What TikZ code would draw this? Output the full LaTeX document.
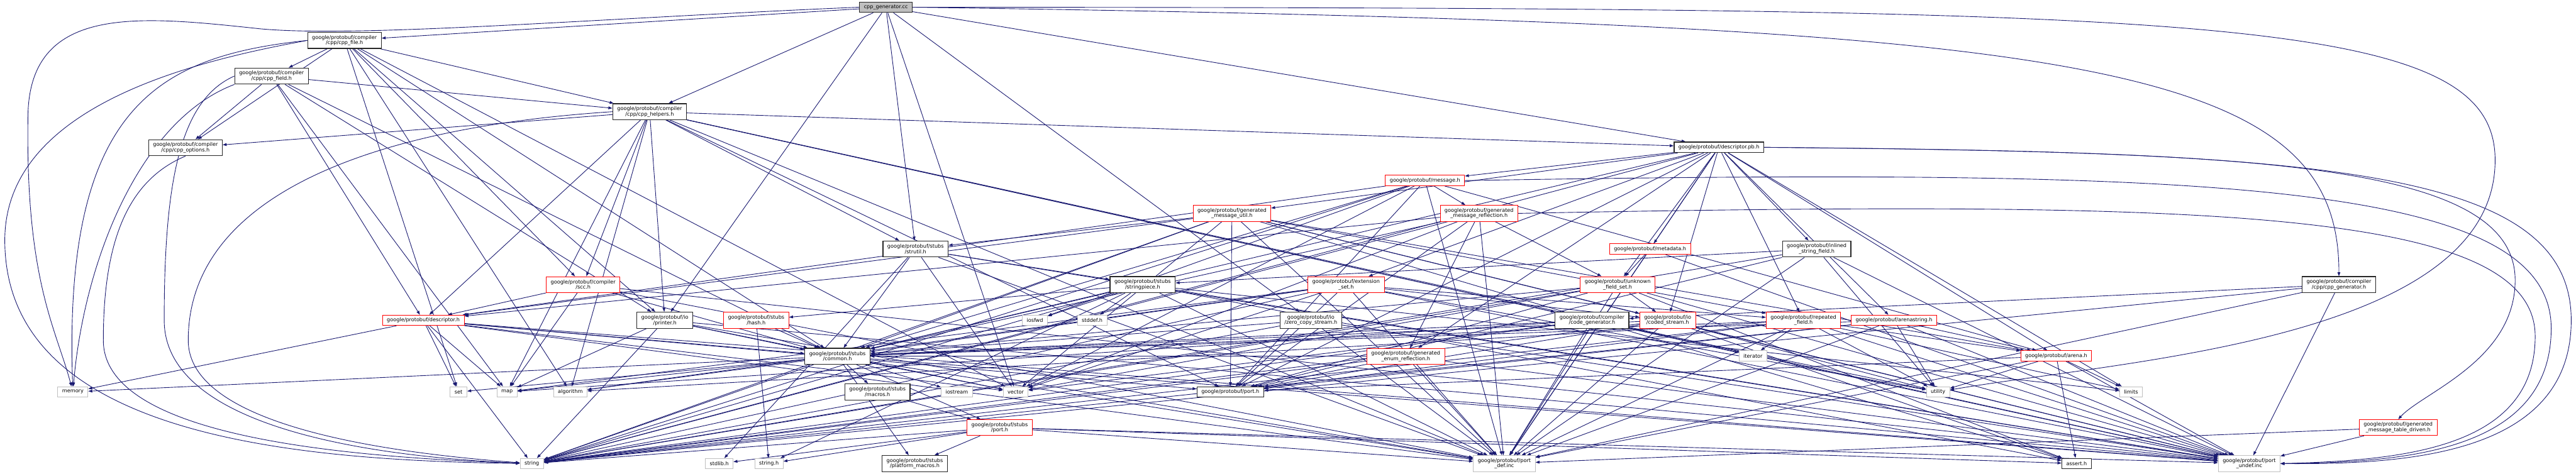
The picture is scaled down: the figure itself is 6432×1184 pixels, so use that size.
\documentclass[tikz,border=0pt]{standalone}
\usepackage{fontspec}
\setmainfont{DejaVu Sans}
\usetikzlibrary{arrows.meta, backgrounds}
\definecolor{edgeblue}{RGB}{25,25,112}
\definecolor{sysgray}{RGB}{191,191,191}
\newcommand{\graphfont}{\fontsize{3.63}{3.85}\selectfont}

\begin{document}
\begin{tikzpicture}[
x=0.01cm, y=-0.01cm,
hdr/.style={draw, rectangle, align=center, font=\graphfont, fill=white, inner xsep=0.11cm, inner ysep=0.02cm, minimum height=0.26cm, line width=0.4pt},
doc/.style={hdr, draw=black!85, line width=0.55pt},
trunc/.style={hdr, draw=red},
sys/.style={hdr, draw=sysgray},
rootbox/.style={hdr, draw=black!85, fill=sysgray, line width=0.55pt},
tall/.style={minimum height=0.40cm},
inc/.style={-{Triangle[length=0.10cm, width=0.07cm]}, draw=edgeblue, line width=0.4pt}
]
\useasboundingbox (0,0) rectangle (6432,1184);

\node[rootbox] (root) at (2212,18) {cpp\_generator.cc};
\node[doc, tall] (cppfile) at (860,101) {google/protobuf/compiler\\/cpp/cpp\_file.h};
\node[doc, tall] (cppfield) at (678,190) {google/protobuf/compiler\\/cpp/cpp\_field.h};
\node[doc, tall] (cpphelp) at (1622,279) {google/protobuf/compiler\\/cpp/cpp\_helpers.h};
\node[doc, tall] (cppopts) at (463,369) {google/protobuf/compiler\\/cpp/cpp\_options.h};
\node[doc] (descpb) at (4292,368) {google/protobuf/descriptor.pb.h};
\node[trunc] (message) at (3558,451) {google/protobuf/message.h};
\node[trunc, tall] (gmutil) at (3076,533) {google/protobuf/generated\\\_message\_util.h};
\node[trunc, tall] (gmrefl) at (3693,533) {google/protobuf/generated\\\_message\_reflection.h};
\node[doc, tall] (strutil) at (2286,622) {google/protobuf/stubs\\/strutil.h};
\node[trunc] (metadata) at (4120,622) {google/protobuf/metadata.h};
\node[doc, tall] (inlined) at (4536,622) {google/protobuf/inlined\\\_string\_field.h};
\node[trunc, tall] (scc) at (1456,711) {google/protobuf/compiler\\/scc.h};
\node[doc, tall] (strpiece) at (2853,711) {google/protobuf/stubs\\/stringpiece.h};
\node[trunc, tall] (extset) at (3361,711) {google/protobuf/extension\\\_set.h};
\node[trunc, tall] (ufs) at (4039,711) {google/protobuf/unknown\\\_field\_set.h};
\node[doc, tall] (cppgen) at (5840,711) {google/protobuf/compiler\\/cpp/cpp\_generator.h};
\node[trunc] (desc) at (1057,800) {google/protobuf/descriptor.h};
\node[doc, tall] (printer) at (1660,800) {google/protobuf/io\\/printer.h};
\node[trunc, tall] (hash) at (1888,800) {google/protobuf/stubs\\/hash.h};
\node[sys] (iosfwd) at (2584,800) {iosfwd};
\node[sys] (stddef) at (2727,800) {stddef.h};
\node[doc, tall] (zcs) at (3273,800) {google/protobuf/io\\/zero\_copy\_stream.h};
\node[doc, tall] (codegen) at (3975,800) {google/protobuf/compiler\\/code\_generator.h};
\node[trunc, tall] (coded) at (4164,800) {google/protobuf/io\\/coded\_stream.h};
\node[trunc, tall] (repfield) at (4503,800) {google/protobuf/repeated\\\_field.h};
\node[trunc] (arenastr) at (4729,800) {google/protobuf/arenastring.h};
\node[doc, tall] (common) at (2091,890) {google/protobuf/stubs\\/common.h};
\node[trunc, tall] (genenum) at (3510,890) {google/protobuf/generated\\\_enum\_reflection.h};
\node[sys] (iterator) at (4377,889) {iterator};
\node[trunc] (arena) at (5134,889) {google/protobuf/arena.h};
\node[sys] (memory) at (182,979) {memory};
\node[sys] (set) at (1145,979) {set};
\node[sys] (map) at (1266,979) {map};
\node[sys] (algorithm) at (1424,979) {algorithm};
\node[doc, tall] (macros) at (2191,979) {google/protobuf/stubs\\/macros.h};
\node[sys] (iostream) at (2389,979) {iostream};
\node[sys] (vector) at (2536,979) {vector};
\node[doc] (port) at (3072,979) {google/protobuf/port.h};
\node[sys] (utility) at (4839,979) {utility};
\node[sys] (limits) at (5321,979) {limits};
\node[trunc, tall] (sport) at (2496,1068) {google/protobuf/stubs\\/port.h};
\node[trunc, tall] (tabledrv) at (5988,1068) {google/protobuf/generated\\\_message\_table\_driven.h};
\node[sys] (string) at (1328,1158) {string};
\node[sys] (stdlib) at (1796,1158) {stdlib.h};
\node[sys] (stringh) at (1920,1158) {string.h};
\node[doc, tall] (platmac) at (2284,1158) {google/protobuf/stubs\\/platform\_macros.h};
\node[sys, tall] (portdef) at (3756,1158) {google/protobuf/port\\\_def.inc};
\node[doc] (asserth) at (5185,1158) {assert.h};
\node[sys, tall] (portundef) at (5616,1158) {google/protobuf/port\\\_undef.inc};

\begin{pgfonlayer}{background}
\foreach \t in {cppfile,cpphelp,descpb,printer,zcs,strutil,vector} \draw[inc] (root) -- (\t);
\foreach \t in {cppfield,cppopts,cpphelp,scc,printer,common,algorithm,set,vector} \draw[inc] (cppfile) -- (\t);
\foreach \t in {cppopts,cpphelp,desc,common,map,printer} \draw[inc] (cppfield) -- (\t);
\foreach \t in {cppopts,scc,codegen,descpb,desc,printer,port,strutil,algorithm,iterator,map,portdef,portundef} \draw[inc] (cpphelp) -- (\t);
\foreach \t in {limits,coded,arena,arenastr,gmutil,inlined,metadata,message,repfield,extset,genenum,ufs,portdef,common,port,string} \draw[inc] (descpb) -- (\t);
\foreach \t in {iosfwd,string,vector,common,arena,desc,gmrefl,port,portdef} \draw[inc] (message) -- (\t);
\foreach \t in {string,vector,common,desc,genenum,port,ufs,portdef} \draw[inc] (gmrefl) -- (\t);
\foreach \t in {asserth,string,vector,common,port,arena,coded,repfield,strutil,desc,portdef,portundef} \draw[inc] (gmutil) -- (\t);
\foreach \t in {memory,set,map,string,vector,common,port,portdef,portundef} \draw[inc] (desc) -- (\t);
\foreach \t in {desc,map,common,portdef,portundef} \draw[inc] (scc) -- (\t);
\foreach \t in {map,string,vector,common,portdef,portundef} \draw[inc] (printer) -- (\t);
\foreach \t in {stringh,common} \draw[inc] (hash) -- (\t);
\foreach \t in {algorithm,iostream,map,memory,set,string,vector,macros,platmac,sport,portdef,portundef} \draw[inc] (common) -- (\t);
\draw[inc] (macros) -- (sport);
\foreach \t in {asserth,stdlib,stringh,string,platmac,portdef,portundef} \draw[inc] (sport) -- (\t);
\foreach \t in {stdlib,vector,common,strpiece,portdef,portundef} \draw[inc] (strutil) -- (\t);
\foreach \t in {asserth,stddef,stringh,iosfwd,limits,string,common,hash,portdef,portundef} \draw[inc] (strpiece) -- (\t);
\foreach \t in {string,common,portdef,portundef} \draw[inc] (zcs) -- (\t);
\foreach \t in {ufs,portdef,portundef} \draw[inc] (metadata) -- (\t);
\foreach \t in {algorithm,map,string,utility,vector,common,coded,port,repfield,portdef,portundef} \draw[inc] (extset) -- (\t);
\foreach \t in {asserth,string,vector,common,coded,port,portdef,portundef} \draw[inc] (ufs) -- (\t);
\foreach \t in {map,string,utility,vector,common,portdef,portundef} \draw[inc] (codegen) -- (\t);
\foreach \t in {asserth,string,utility,common,port,portdef,portundef} \draw[inc] (coded) -- (\t);
\foreach \t in {string,common,port,portdef,portundef} \draw[inc] (genenum) -- (\t);
\foreach \t in {string,utility,port,strpiece,portdef,portundef} \draw[inc] (inlined) -- (\t);
\foreach \t in {utility,algorithm,iterator,limits,string,common,arena,port,portdef,portundef} \draw[inc] (repfield) -- (\t);
\foreach \t in {string,utility,common,arena,port,portdef,portundef} \draw[inc] (arenastr) -- (\t);
\foreach \t in {limits,utility,port,asserth,portdef,portundef} \draw[inc] (arena) -- (\t);
\foreach \t in {string,codegen,portdef,portundef} \draw[inc] (cppgen) -- (\t);
\foreach \t in {portdef,portundef} \draw[inc] (tabledrv) -- (\t);

\draw[inc] (root.west) .. controls (1500,45) and (900,95) .. (650,72) .. controls (350,40) and (80,10) .. (70,280) .. controls (62,700) and (140,820) .. (memory);
\draw[inc] (cppfile.west) .. controls (500,150) and (12,260) .. (12,600) .. controls (12,1080) and (700,1150) .. (string);
\draw[inc] (cppfile.west) .. controls (400,140) and (157,260) .. (memory);
\draw[inc] (cppfield.south west) .. controls (350,300) and (210,650) .. (memory);
\draw[inc] (cppopts.south) .. controls (320,450) and (258,600) .. (258,850) .. controls (258,1080) and (800,1140) .. (string);
\draw[inc] (cppfield.west) .. controls (450,250) and (410,450) .. (410,800) .. controls (410,1060) and (900,1140) .. (string);
\draw[inc] (cpphelp.west) .. controls (900,320) and (470,500) .. (470,850) .. controls (470,1060) and (950,1130) .. (string);
\draw[inc] (root.east) .. controls (5200,60) and (5840,150) .. (cppgen.north);
\draw[inc] (root.east) .. controls (5500,20) and (6230,30) .. (6230,400) .. controls (6230,850) and (5300,900) .. (utility);
\draw[inc] (descpb.east) .. controls (5600,380) and (6280,400) .. (6280,700) .. controls (6280,900) and (6050,980) .. (tabledrv.north);
\draw[inc] (descpb.east) .. controls (5800,380) and (6420,420) .. (6420,800) .. controls (6420,1140) and (6000,1160) .. (portundef.east);
\draw[inc] (message.east) .. controls (5500,420) and (6370,450) .. (6370,820) .. controls (6370,1130) and (6000,1155) .. (portundef.east);
\draw[inc] (gmrefl.east) .. controls (5500,500) and (6330,520) .. (6330,840) .. controls (6330,1120) and (6000,1150) .. (portundef.east);
\end{pgfonlayer}
\end{tikzpicture}
\end{document}
